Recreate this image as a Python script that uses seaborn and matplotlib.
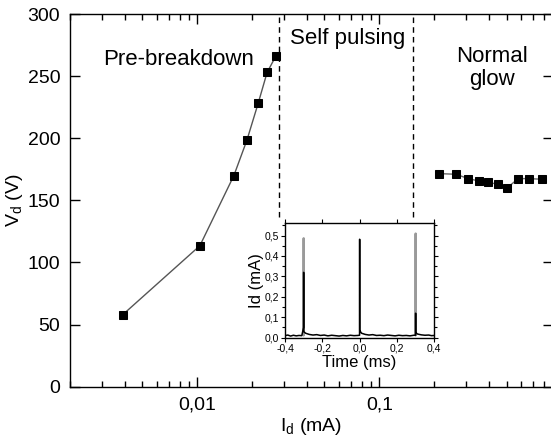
import numpy as np
import pandas as pd
import matplotlib
matplotlib.use('Agg')
import matplotlib.pyplot as plt
import matplotlib.ticker as mticker
import seaborn as sns

# main curve: discharge voltage vs current
pre_current = [0.0039, 0.01034, 0.0159, 0.01875, 0.0216, 0.0242, 0.0270]
pre_voltage = [58, 113.5, 170, 198.5, 228, 253, 266]

glow_current = [0.214, 0.264, 0.308, 0.354, 0.396, 0.447, 0.503, 0.580, 0.661, 0.78]
glow_voltage = [171.5, 171, 167.5, 165.5, 164.5, 163, 160, 167.5, 167.5, 167]

# regime boundaries (mA)
boundaries = [0.028, 0.154]
boundary_vmin = 137

# inset: current pulses vs time
t_black = [-0.4, -0.385, -0.37, -0.355, -0.34, -0.325, -0.31, -0.3005, -0.3, -0.2995,
           -0.29, -0.27, -0.25, -0.23, -0.21, -0.19, -0.17, -0.15, -0.13, -0.11,
           -0.09, -0.07, -0.05, -0.03, -0.01, -0.0005, 0.0, 0.0005, 0.01, 0.03,
           0.05, 0.07, 0.09, 0.11, 0.13, 0.15, 0.17, 0.19, 0.21, 0.23,
           0.25, 0.27, 0.29, 0.2995, 0.3, 0.3005, 0.31, 0.33, 0.35, 0.37, 0.385, 0.4]
i_black = [0.010, 0.013, 0.008, 0.012, 0.009, 0.011, 0.010, 0.050, 0.320, 0.030,
           0.022, 0.016, 0.013, 0.015, 0.011, 0.013, 0.009, 0.012, 0.010, 0.008,
           0.011, 0.009, 0.012, 0.010, 0.011, 0.012, 0.482, 0.035, 0.022, 0.016,
           0.013, 0.015, 0.011, 0.012, 0.010, 0.013, 0.011, 0.009, 0.012, 0.010,
           0.011, 0.009, 0.012, 0.012, 0.120, 0.025, 0.018, 0.014, 0.012, 0.013, 0.010, 0.011]
t_gray_left = [-0.3005, -0.3, -0.2995]
i_gray_left = [0.012, 0.487, 0.012]
t_gray_right = [0.2995, 0.3, 0.3005]
i_gray_right = [0.012, 0.510, 0.012]

sns.set_style('ticks')
plt.rcParams['font.family'] = ['Liberation Sans', 'DejaVu Sans']
plt.rcParams['mathtext.fontset'] = 'custom'
plt.rcParams['mathtext.rm'] = 'Liberation Sans'
plt.rcParams['text.color'] = 'black'
plt.rcParams['axes.labelcolor'] = 'black'
plt.rcParams['xtick.color'] = 'black'
plt.rcParams['ytick.color'] = 'black'
plt.rcParams['axes.edgecolor'] = 'black'

fig = plt.figure(figsize=(5.51, 4.44), dpi=100)
ax = fig.add_axes([70 / 551, 57.3 / 444, 483 / 551, 372.7 / 444])

pre = pd.DataFrame({'I': pre_current, 'V': pre_voltage})
glow = pd.DataFrame({'I': glow_current, 'V': glow_voltage})

sns.lineplot(data=pre, x='I', y='V', ax=ax, color='#555555', linewidth=1,
             marker='s', markersize=6, markerfacecolor='black', markeredgecolor='black',
             estimator=None, sort=False)
sns.lineplot(data=glow, x='I', y='V', ax=ax, color='#666666', linewidth=1,
             marker='s', markersize=5.5, markerfacecolor='black', markeredgecolor='black',
             estimator=None, sort=False)

ax.vlines(boundaries, boundary_vmin, 300, colors='black', linestyles=(0, (4, 3)), linewidth=1)

ax.set_xscale('log')
ax.set_xlim(0.002, 0.9)
ax.set_ylim(0, 300)
ax.set_yticks([0, 50, 100, 150, 200, 250, 300])
ax.set_xticks([0.01, 0.1])
ax.set_xticklabels(['0,01', '0,1'])
ax.xaxis.set_minor_locator(mticker.LogLocator(base=10, subs=np.arange(2, 10)))
ax.xaxis.set_minor_formatter(mticker.NullFormatter())
ax.tick_params(which='both', direction='in', top=True, right=True, labelsize=14, pad=7)
ax.tick_params(which='major', length=7, width=1)
ax.tick_params(which='minor', length=4, width=1)
for s in ax.spines.values():
    s.set_linewidth(1)

ax.set_xlabel(r'I$_\mathregular{d}$ (mA)', fontsize=14, labelpad=2)
ax.set_ylabel(r'V$_\mathregular{d}$ (V)', fontsize=14, labelpad=2)

ax.text(0.2257, 0.879, 'Pre-breakdown', transform=ax.transAxes, fontsize=16,
        ha='center', va='center')
ax.text(0.5745, 0.935, 'Self pulsing', transform=ax.transAxes, fontsize=16,
        ha='center', va='center')
ax.text(0.8737, 0.855, 'Normal\nglow', transform=ax.transAxes, fontsize=16,
        ha='center', va='center', linespacing=1.15)

# inset
ins = fig.add_axes([285 / 551, 106.3 / 444, 149.3 / 551, 114.4 / 444])
ins.set_facecolor('white')
sns.lineplot(x=t_gray_left, y=i_gray_left, ax=ins, color='#9a9a9a', linewidth=1.6,
             estimator=None, sort=False)
sns.lineplot(x=t_gray_right, y=i_gray_right, ax=ins, color='#9a9a9a', linewidth=1.6,
             estimator=None, sort=False)
sns.lineplot(x=t_black, y=i_black, ax=ins, color='black', linewidth=1.1,
             estimator=None, sort=False)
ins.set_xlim(-0.4, 0.4)
ins.set_ylim(0, 0.56)
ins.set_xticks([-0.4, -0.2, 0.0, 0.2, 0.4])
ins.set_xticklabels(['-0,4', '-0,2', '0,0', '0,2', '0,4'])
ins.set_yticks([0.0, 0.1, 0.2, 0.3, 0.4, 0.5])
ins.set_yticklabels(['0,0', '0,1', '0,2', '0,3', '0,4', '0,5'])
ins.yaxis.set_minor_locator(mticker.MultipleLocator(0.05))
ins.tick_params(which='both', direction='out', top=True, right=True, labelsize=7.5, pad=1)
ins.tick_params(which='major', length=3, width=0.8)
ins.tick_params(which='minor', length=2, width=0.8)
ins.set_xlabel('Time (ms)', fontsize=12, labelpad=1)
ins.set_ylabel('Id (mA)', fontsize=12, labelpad=1)
for s in ins.spines.values():
    s.set_linewidth(1)

fig.savefig('out.png', dpi=100)
